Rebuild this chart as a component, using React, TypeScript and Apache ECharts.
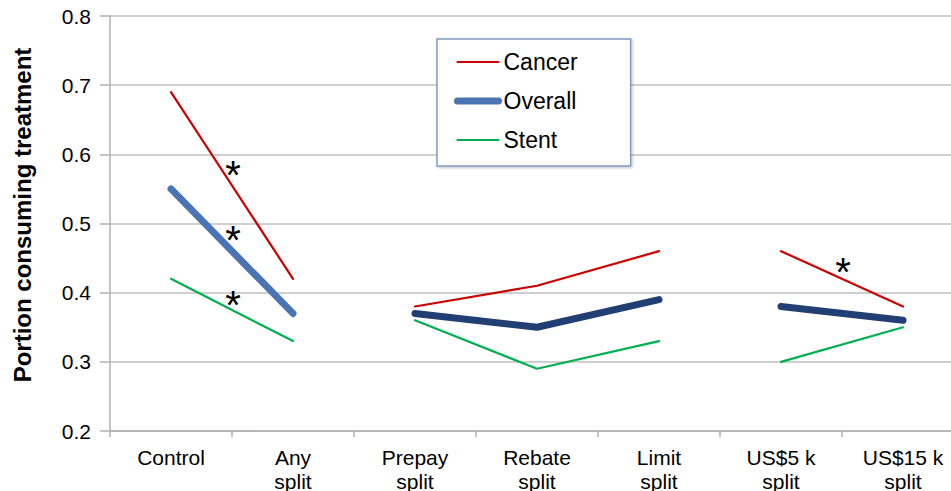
import React, { useEffect, useRef } from "react";
import * as echarts from "echarts";

const categories = [
  "Control",
  "Any\nsplit",
  "Prepay\nsplit",
  "Rebate\nsplit",
  "Limit\nsplit",
  "US$5 k\nsplit",
  "US$15 k\nsplit",
];
const cancer = [0.69, 0.42, 0.38, 0.41, 0.46, 0.46, 0.38];
const overall = [0.55, 0.37, 0.37, 0.35, 0.39, 0.38, 0.36];
const stent = [0.42, 0.33, 0.36, 0.29, 0.33, 0.3, 0.35];
const groups = [
  [0, 1],
  [2, 3, 4],
  [5, 6],
];
const yTicks = [0.2, 0.3, 0.4, 0.5, 0.6, 0.7, 0.8];
// significance markers: placed between two categories at a given value
const stars = [
  { between: [0, 1], y: 0.579 },
  { between: [0, 1], y: 0.485 },
  { between: [0, 1], y: 0.391 },
  { between: [5, 6], y: 0.438 },
];

const FONT = "'Liberation Sans', Arial, Helvetica, sans-serif";

export default function App() {
  const ref = useRef<HTMLDivElement>(null);
  useEffect(() => {
    if (!ref.current) return;
    const chart = echarts.init(ref.current, null, { renderer: "svg" });

    const metrics = [
      { name: "Cancer", values: cancer, colors: ["#cc0000", "#cc0000", "#cc0000"], width: 2.2 },
      { name: "Overall", values: overall, colors: ["#4a74b3", "#213f72", "#213f72"], width: 7 },
      { name: "Stent", values: stent, colors: ["#00b050", "#00b050", "#00b050"], width: 2.2 },
    ];
    const series: any[] = [];
    metrics.forEach((m) => {
      groups.forEach((g, gi) => {
        series.push({
          name: m.name,
          type: "line",
          data: categories.map((_, i) => (g.includes(i) ? m.values[i] : null)),
          connectNulls: false,
          symbol: "none",
          color: m.colors[gi],
          lineStyle: { color: m.colors[gi], width: m.width, cap: "round", join: "round" },
          silent: true,
          z: m.name === "Overall" ? 3 : 2,
        });
      });
    });

    chart.setOption({
      animation: false,
      textStyle: { fontFamily: FONT },
      grid: {
        left: 110,
        top: 16,
        width: 854,
        height: 415,
        containLabel: false,
        outerBoundsMode: "none",
      },
      legend: {
        data: metrics.map((m) => ({
          name: m.name,
          lineStyle: { width: m.width, color: m.colors[0], cap: "round" },
        })),
        orient: "vertical",
        left: 437,
        top: 39,
        padding: [11, 53, 14, 17],
        itemWidth: 41,
        itemHeight: 24,
        itemGap: 15,
        backgroundColor: "#ffffff",
        borderColor: "#8299c2",
        borderWidth: 1.5,
        shadowColor: "rgba(0,0,0,0.25)",
        shadowBlur: 3,
        shadowOffsetX: 1,
        shadowOffsetY: 1,
        selectedMode: false,
        itemStyle: { opacity: 0, borderWidth: 0 },
        textStyle: { fontSize: 23, color: "#000", fontFamily: FONT, lineHeight: 24 },
      },
      xAxis: {
        type: "category",
        data: categories,
        boundaryGap: true,
        axisLine: { lineStyle: { color: "#b0b0b0", width: 1.5 } },
        axisTick: { show: true, length: 6, lineStyle: { color: "#b0b0b0", width: 1.5 } },
        axisLabel: { color: "#000", fontSize: 21, lineHeight: 24, margin: 14, fontFamily: FONT, interval: 0 },
        splitLine: { show: false },
      },
      yAxis: {
        type: "value",
        min: 0.2,
        max: 0.8,
        interval: 0.1,
        name: "Portion consuming treatment",
        nameLocation: "middle",
        nameGap: 76,
        nameTextStyle: { fontSize: 24, fontWeight: "bold", color: "#000", fontFamily: FONT, padding: [0, 0, 0, 17] },
        axisLine: { show: true, lineStyle: { color: "#b0b0b0", width: 1.5 } },
        axisTick: { show: true, length: 10, lineStyle: { color: "#b0b0b0", width: 1.5 } },
        axisLabel: {
          color: "#000",
          fontSize: 21,
          margin: 19,
          fontFamily: FONT,
          formatter: (v: number) => {
            const t = yTicks.find((k) => Math.abs(k - v) < 1e-6);
            return t !== undefined ? t.toFixed(1) : "";
          },
        },
        splitLine: { show: true, lineStyle: { color: "#bfbfbf", width: 1.5 } },
      },
      series,
    });

    const starFont = 40;
    const graphics = stars.map((s) => {
      const p0 = chart.convertToPixel({ xAxisIndex: 0, yAxisIndex: 0 }, [s.between[0], s.y]) as number[];
      const p1 = chart.convertToPixel({ xAxisIndex: 0, yAxisIndex: 0 }, [s.between[1], s.y]) as number[];
      return {
        type: "text",
        x: (p0[0] + p1[0]) / 2 + 1,
        y: p0[1] + starFont * 0.15,
        silent: true,
        z: 10,
        style: {
          text: "*",
          fontSize: starFont,
          fontFamily: FONT,
          fill: "#000",
          align: "center",
          verticalAlign: "middle",
        },
      };
    });
    chart.setOption({ graphic: graphics });

    return () => chart.dispose();
  }, []);
  return (
    <div
      ref={ref}
      style={{ position: "fixed", left: 0, top: 0, width: 951, height: 491, background: "#fff" }}
    />
  );
}
